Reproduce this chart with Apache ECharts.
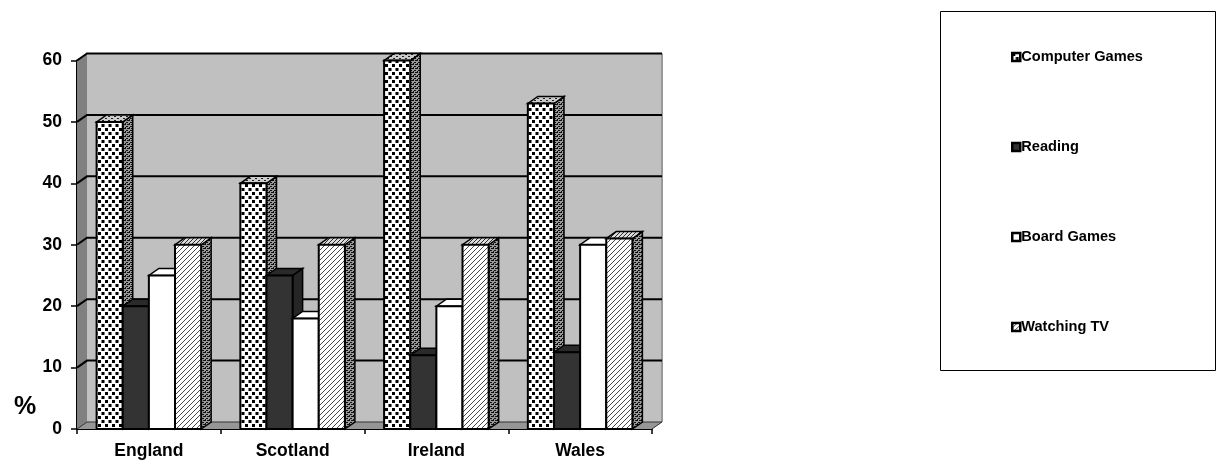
<!DOCTYPE html>
<html>
<head>
<meta charset="utf-8">
<style>html,body{margin:0;padding:0;background:#fff}#chart{width:1223px;height:472px}</style>
<script src="https://cdn.jsdelivr.net/npm/echarts@6/dist/echarts.min.js"></script>
</head>
<body>
<div id="chart"></div>
<script>
// Leisure activities by country, per cent of respondents
const countries = ['England', 'Scotland', 'Ireland', 'Wales'];
const computerGames = [50, 40, 60, 53];
const reading = [20, 25, 12, 12.5];
const boardGames = [25, 18, 20, 30];
const watchingTv = [30, 30, 30, 31];
const wallTicks = [0, 10, 20, 30, 40, 50, 60];

// Pseudo-3D depth of the chart box and of each bar, in pixels
const DEPTH_X = 10, DEPTH_Y = -7;
const FONT = '"Liberation Sans", Arial, sans-serif';

// Builds a repeating fill from a small tile drawing
function tile(w, h, bg, draw) {
  const c = document.createElement('canvas');
  c.width = w; c.height = h;
  const g = c.getContext('2d');
  g.fillStyle = bg; g.fillRect(0, 0, w, h);
  g.fillStyle = '#000'; g.strokeStyle = '#000';
  draw(g);
  return { image: c, repeat: 'repeat' };
}
const dots = tile(7, 8, '#fff', g => {
  g.fillRect(0, 0, 3, 3); g.fillRect(3.5, 4, 3, 3);
});
const stipple = tile(4, 4, '#999', g => {
  g.fillStyle = '#111';
  g.fillRect(0, 0, 2, 1); g.fillRect(2, 2, 2, 1); g.fillRect(3, 0, 1, 1); g.fillRect(1, 3, 1, 1);
});
const mottled = tile(6, 4, '#ccc', g => {
  g.fillStyle = '#222';
  g.fillRect(0, 0, 2, 1); g.fillRect(3, 2, 2, 1);
});
const hatch = tile(5, 5, '#fff', g => {
  g.lineWidth = 0.9;
  g.strokeStyle = '#333';
  g.beginPath();
  g.moveTo(-1, 6); g.lineTo(6, -1);
  g.moveTo(-1, 1); g.lineTo(1, -1);
  g.moveTo(4, 6); g.lineTo(6, 4);
  g.stroke();
});
const hatchTop = tile(4, 4, '#dcdcdc', g => {
  g.lineWidth = 0.8;
  g.beginPath(); g.moveTo(-1, 5); g.lineTo(5, -1); g.stroke();
});

const activities = [
  { name: 'Computer Games', values: computerGames, front: dots, side: stipple, top: mottled },
  { name: 'Reading', values: reading, front: '#333333', side: '#262626', top: '#2a2a2a' },
  { name: 'Board Games', values: boardGames, front: '#ffffff', side: '#ffffff', top: '#ffffff' },
  { name: 'Watching TV', values: watchingTv, front: hatch, side: stipple, top: hatchTop }
];
const GROUP_SLOTS = activities.length + 1.5;

function poly(points, fill, stroke, lineWidth) {
  return {
    type: 'polygon',
    shape: { points: points },
    style: { fill: fill, stroke: stroke || null, lineWidth: lineWidth || 0 }
  };
}
function line(points, stroke, lineWidth) {
  return {
    type: 'polyline',
    shape: { points: points },
    style: { fill: null, stroke: stroke, lineWidth: lineWidth }
  };
}

// Side walls, floor and grid lines of the box behind the bars
function renderWall(params, api) {
  const tick = api.value(0);
  const band = api.size([1, 0])[0];
  const left = api.coord([0, 0])[0] - band / 2;
  const right = left + band * countries.length;
  const y = api.coord([0, tick])[1];
  const yBase = api.coord([0, 0])[1];
  const yTop = api.coord([0, wallTicks[wallTicks.length - 1]])[1];
  const children = [];
  if (tick === 0) {
    children.push(
      poly([[left + DEPTH_X, yBase + DEPTH_Y], [right + DEPTH_X, yBase + DEPTH_Y],
            [right + DEPTH_X, yTop + DEPTH_Y], [left + DEPTH_X, yTop + DEPTH_Y]], '#c0c0c0'),
      poly([[left, yBase], [left + DEPTH_X, yBase + DEPTH_Y],
            [left + DEPTH_X, yTop + DEPTH_Y], [left, yTop]], '#808080'),
      poly([[left, yBase], [right, yBase], [right + DEPTH_X, yBase + DEPTH_Y],
            [left + DEPTH_X, yBase + DEPTH_Y]], '#969696'),
      line([[right + DEPTH_X, yTop + DEPTH_Y], [right + DEPTH_X, yBase + DEPTH_Y]], '#999999', 2),
      line([[left + DEPTH_X, yBase + DEPTH_Y], [right + DEPTH_X, yBase + DEPTH_Y], [right, yBase]], '#333333', 1)
    );
  }
  if (tick !== 0) {
    children.push(line([[left, y], [left + DEPTH_X, y + DEPTH_Y], [right + DEPTH_X, y + DEPTH_Y]], '#000', 2));
  } else {
    children.push(line([[left, y], [left + DEPTH_X, y + DEPTH_Y]], '#333333', 1));
  }
  return { type: 'group', children: children };
}

// One prism per country: side face, top face and front face
function barRenderer(activity, slot) {
  return function (params, api) {
    const band = api.size([1, 0])[0];
    const width = band / GROUP_SLOTS;
    const cat = api.value(0);
    const centre = api.coord([cat, 0])[0];
    const x0 = centre - band / 2 + width * (0.75 + slot);
    const x1 = x0 + width;
    const y0 = api.coord([cat, 0])[1];
    const y1 = api.coord([cat, api.value(1)])[1];
    return {
      type: 'group',
      children: [
        poly([[x1, y0], [x1 + DEPTH_X, y0 + DEPTH_Y], [x1 + DEPTH_X, y1 + DEPTH_Y], [x1, y1]], activity.side, '#000', 1.5),
        poly([[x0, y1], [x1, y1], [x1 + DEPTH_X, y1 + DEPTH_Y], [x0 + DEPTH_X, y1 + DEPTH_Y]], activity.top, '#000', 1.5),
        poly([[x0, y0], [x1, y0], [x1, y1], [x0, y1]], activity.front, '#000', 2)
      ]
    };
  };
}

const chart = echarts.init(document.getElementById('chart'), null, { renderer: 'canvas' });
chart.setOption({
  animation: false,
  backgroundColor: '#ffffff',
  grid: { left: 77, right: 571, top: 60.5, bottom: 43, containLabel: false },
  xAxis: {
    type: 'category',
    data: countries,
    axisLine: { show: true, lineStyle: { color: '#000', width: 2 } },
    axisTick: { show: true, length: 5, lineStyle: { color: '#000', width: 1.5 } },
    axisLabel: { color: '#000', fontFamily: FONT, fontWeight: 'bold', fontSize: 17.5, margin: 13 },
    splitLine: { show: false }
  },
  yAxis: {
    type: 'value',
    min: 0,
    max: 60,
    interval: 10,
    axisLine: { show: true, lineStyle: { color: '#000', width: 2 } },
    axisTick: { show: true, length: 6, lineStyle: { color: '#000', width: 1.5 } },
    axisLabel: { color: '#000', fontFamily: FONT, fontWeight: 'bold', fontSize: 17.5, margin: 15 },
    splitLine: { show: false }
  },
  legend: {
    orient: 'vertical',
    left: 1006,
    top: 43,
    itemWidth: 8,
    itemHeight: 8,
    itemGap: 72,
    selectedMode: false,
    textStyle: { color: '#000', fontFamily: FONT, fontWeight: 'bold', fontSize: 14.6, padding: [0, 0, 0, -4], lineHeight: 18, height: 18 },
    data: activities.map(a => ({
      name: a.name,
      icon: 'rect',
      itemStyle: { color: a.front, borderColor: '#000', borderWidth: 2.5 }
    }))
  },
  graphic: [
    {
      type: 'rect',
      shape: { x: 940.5, y: 11.5, width: 275, height: 359 },
      style: { fill: null, stroke: '#000', lineWidth: 1 },
      silent: true
    },
    {
      type: 'text',
      x: 14,
      y: 395,
      style: { text: '%', fill: '#000', font: 'bold 25px ' + FONT },
      silent: true
    }
  ],
  series: [
    {
      name: 'wall',
      type: 'custom',
      coordinateSystem: 'cartesian2d',
      clip: false,
      silent: true,
      z: 1,
      data: wallTicks.map(t => [t]),
      encode: { x: -1, y: 0 },
      renderItem: renderWall
    }
  ].concat(activities.map((a, slot) => ({
    name: a.name,
    type: 'custom',
    coordinateSystem: 'cartesian2d',
    clip: false,
    silent: true,
    z: 2 + slot,
    itemStyle: { color: a.front },
    data: a.values.map((v, i) => [i, v]),
    encode: { x: 0, y: 1 },
    renderItem: barRenderer(a, slot)
  })))
});
</script>
</body>
</html>
